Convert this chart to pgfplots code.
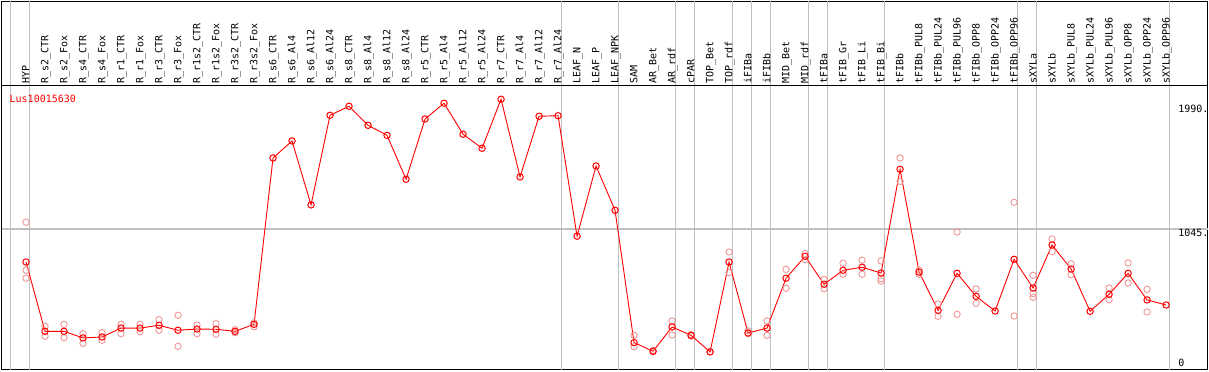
\documentclass[border=0pt]{standalone}
\usepackage{fontspec}
\usepackage{pgfplots}
\pgfplotsset{compat=1.18}
\newfontfamily\lblfont{DejaVu Sans Mono}
\definecolor{rep}{RGB}{240,150,150}
\definecolor{gridgray}{RGB}{192,192,192}
\tikzset{lbl/.style={font=\lblfont\fontsize{10bp}{12bp}\selectfont}}
\begin{document}
\begin{tikzpicture}
\begin{axis}[
  name=ax,
  scale only axis, width=1206bp, height=368bp,
  xmin=-1.29, xmax=62.18, ymin=21, ymax=2702,
  xtick=\empty, ytick=\empty,
  axis line style={line width=1.5bp},
  extra x ticks={-0.8,0.2,28.2,31.2,34.2,35.2,37.2,38.2,39.2,41.2,42.2,45.2,52.2,53.2,60.2},
  extra x tick labels={},
  extra x tick style={grid=major, major grid style={gridgray, line width=1.2bp}, major tick length=0pt},
  extra y ticks={1045},
  extra y tick labels={},
  extra y tick style={grid=major, major grid style={gridgray, line width=1.2bp}, major tick length=0pt},
  clip=false,
]
\draw[black, line width=1.5bp] (axis cs:-1.29,2090) -- (axis cs:62.18,2090);

\foreach \lab [count=\i from 0] in {HYP,R\_s2\_CTR,R\_s2\_Fox,R\_s4\_CTR,R\_s4\_Fox,R\_r1\_CTR,R\_r1\_Fox,R\_r3\_CTR,R\_r3\_Fox,R\_r1s2\_CTR,R\_r1s2\_Fox,R\_r3s2\_CTR,R\_r3s2\_Fox,R\_s6\_CTR,R\_s6\_Al4,R\_s6\_Al12,R\_s6\_Al24,R\_s8\_CTR,R\_s8\_Al4,R\_s8\_Al12,R\_s8\_Al24,R\_r5\_CTR,R\_r5\_Al4,R\_r5\_Al12,R\_r5\_Al24,R\_r7\_CTR,R\_r7\_Al4,R\_r7\_Al12,R\_r7\_Al24,LEAF\_N,LEAF\_P,LEAF\_NPK,SAM,AR\_Bet,AR\_rdf,cPAR,TOP\_Bet,TOP\_rdf,iFIBa,iFIBb,MID\_Bet,MID\_rdf,tFIBa,tFIB\_Gr,tFIB\_Li,tFIB\_Bi,tFIBb,tFIBb\_PUL8,tFIBb\_PUL24,tFIBb\_PUL96,tFIBb\_OPP8,tFIBb\_OPP24,tFIBb\_OPP96,sXYLa,sXYLb,sXYLb\_PUL8,sXYLb\_PUL24,sXYLb\_PUL96,sXYLb\_OPP8,sXYLb\_OPP24,sXYLb\_OPP96}{%
  \edef\tmp{\noexpand\node[lbl, rotate=90, anchor=base west, inner sep=0pt] at (axis cs:\i.18,2101) {\unexpanded\expandafter{\lab}};}%
  \tmp
}

\node[lbl, text=red, anchor=west, inner sep=0pt] at (axis cs:-0.87,1992) {Lus10015630};
\node[lbl, anchor=west, inner sep=0pt] at (axis cs:60.63,1919) {1990.};
\node[lbl, anchor=west, inner sep=0pt] at (axis cs:60.63,1016) {1045.};
\node[lbl, anchor=west, inner sep=0pt] at (axis cs:60.63,68) {0};

\addplot[only marks, mark=o, mark size=3.2bp, mark options={rep, line width=0.9bp}] table {
x y
0 1094
0 744
0 686
1 336
1 263
2 350
2 253
3 282
3 212
4 289
4 234
5 350
5 282
6 350
6 297
7 384
7 307
8 416
8 190
9 345
9 282
10 355
10 278
11 311
11 289
12 362
12 333
32 270
32 187
33 160
33 150
34 375
34 272
35 275
35 265
36 152
37 877
37 727
38 302
38 282
39 375
39 270
40 751
40 613
41 865
41 821
42 678
42 610
43 795
43 715
44 817
44 715
45 812
45 683
45 666
46 1562
46 1392
47 744
47 715
48 498
48 409
49 1023
49 423
50 608
50 503
52 1239
52 411
53 707
53 574
53 547
54 972
54 880
55 792
55 712
57 615
57 530
58 797
58 651
59 605
59 440
};

\addplot[red, line width=0.9bp, mark=o, mark size=3.2bp, mark options={red, line width=1bp}] table {
x y
0 804
1 299
2 299
3 251
4 258
5 323
6 323
7 343
8 307
9 316
10 314
11 299
12 350
13 1562
14 1686
15 1220
16 1873
17 1939
18 1800
19 1727
20 1407
21 1846
22 1961
23 1735
24 1633
25 1990
26 1424
27 1866
28 1870
29 992
30 1504
31 1181
32 217
33 154
34 331
35 270
36 149
37 804
38 287
39 323
40 686
41 846
42 642
43 744
44 766
45 724
46 1480
47 731
48 452
49 722
50 554
51 447
52 824
53 615
54 928
55 753
56 445
57 569
58 722
59 528
60 491
};
\end{axis}
\pgfresetboundingbox
\path ([shift={(-1.5bp,-1.5bp)}]ax.south west) rectangle ([shift={(1.5bp,1.5bp)}]ax.north east);
\end{tikzpicture}
\end{document}
